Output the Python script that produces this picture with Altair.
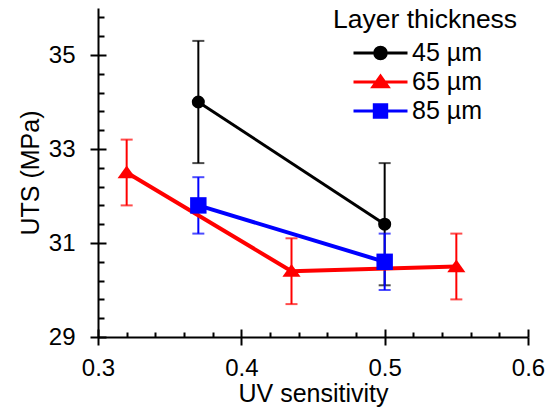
import altair as alt
import pandas as pd

# ---- data ----
groups = ["45 µm", "65 µm", "85 µm"]
colors = ["#000000", "#ff0000", "#0000ff"]

grp = ["45 µm", "45 µm", "65 µm", "65 µm", "65 µm", "85 µm", "85 µm"]
uv = [0.37, 0.50, 0.32, 0.435, 0.55, 0.37, 0.50]
uts = [34.0, 31.4, 32.5, 30.4, 30.5, 31.8, 30.6]
err = [1.3, 1.3, 0.7, 0.7, 0.7, 0.6, 0.6]

x_major = [0.3, 0.4, 0.5, 0.6]
x_ticks = [0.3, 0.32, 0.34, 0.36, 0.38, 0.4, 0.42, 0.44, 0.46, 0.48,
           0.5, 0.52, 0.54, 0.56, 0.58, 0.6]
y_major = [29, 31, 33, 35]
y_ticks = [29, 29.4, 29.8, 30.2, 30.6, 31, 31.4, 31.8, 32.2, 32.6,
           33, 33.4, 33.8, 34.2, 34.6, 35, 35.4, 35.8]

df = pd.DataFrame({"grp": grp, "uv": uv, "uts": uts, "err": err})
df["lo"] = df["uts"] - df["err"]
df["hi"] = df["uts"] + df["err"]

W, H = 430, 329
FONT = "Liberation Sans"

xs = alt.Scale(domain=[0.3, 0.6], nice=False, zero=False)
ys = alt.Scale(domain=[29, 36], nice=False, zero=False)

base = alt.Chart(df)

# main axes (outward major ticks + labels)
axis_layer = base.mark_point(opacity=0).encode(
    x=alt.X("uv:Q", scale=xs, axis=alt.Axis(
        orient="bottom", values=x_major, format=".1f", tickSize=8,
        labelPadding=11, labelFlush=False, title="UV sensitivity",
        titlePadding=1)),
    y=alt.Y("uts:Q", scale=ys, axis=alt.Axis(
        orient="left", values=y_major, format="d", tickSize=8,
        labelPadding=15, labelFlush=False, title="UTS (MPa)",
        titlePadding=5)),
)

# inward ticks (major + minor)
inward_layer = base.mark_point(opacity=0).encode(
    x=alt.X("uv:Q", scale=xs, axis=alt.Axis(
        orient="top", offset=-H, values=x_ticks, labels=False, domain=False,
        title=None,
        tickSize={"condition": {"test": "abs(datum.value*10 - round(datum.value*10)) < 0.001", "value": 8}, "value": 5})),
    y=alt.Y("uts:Q", scale=ys, axis=alt.Axis(
        orient="right", offset=-W, values=y_ticks, labels=False, domain=False,
        title=None,
        tickSize={"condition": {"test": "abs((datum.value-29)/2 - round((datum.value-29)/2)) < 0.001", "value": 8}, "value": 6})),
)

ex = alt.X("uv:Q", scale=xs, axis=None)
ey = alt.Y("uts:Q", scale=ys, axis=None)
ylo = alt.Y("lo:Q", scale=ys, axis=None)
yhi = alt.Y("hi:Q", scale=ys, axis=None)

line_w = [3, 4, 4]
plot_shapes = ["circle", "M0,-0.78L1,0.62L-1,0.62Z", "square"]
plot_sizes = [170, 330, 270]

errs, lines, points = [], [], []
for g, c, w, s, z in zip(groups, colors, line_w, plot_shapes, plot_sizes):
    sub = base.transform_filter(alt.datum.grp == g)
    errs.append(sub.mark_rule(strokeWidth=2, color=c).encode(x=ex, y=ylo, y2="hi:Q"))
    errs.append(sub.mark_tick(orient="horizontal", size=12, thickness=2, color=c).encode(x=ex, y=ylo))
    errs.append(sub.mark_tick(orient="horizontal", size=12, thickness=2, color=c).encode(x=ex, y=yhi))
    lines.append(sub.mark_line(color=c, strokeWidth=w).encode(x=ex, y=ey, order="uv:Q"))
    points.append(sub.mark_point(filled=True, opacity=1, color=c, shape=s, size=z).encode(x=ex, y=ey))

# legend: line + marker symbols (layer itself is invisible)
legend_paths = [
    "M-2.7,0H2.7M0.58,0A0.58,0.58,0,1,1,-0.58,0A0.58,0.58,0,1,1,0.58,0Z",
    "M-2.7,0H2.7M0,-0.6L0.75,0.47L-0.75,0.47Z",
    "M-2.7,0H2.7M-0.62,-0.62H0.62V0.62H-0.62Z",
]
leg = alt.Legend(
    title="Layer thickness", orient="none", legendX=235, legendY=-1,
    titleFontSize=26.5, titleFontWeight="normal", titleColor="black",
    titleFont=FONT, titlePadding=7, titleLimit=400, labelFontSize=25,
    labelColor="black", labelFont=FONT, labelOffset=19, symbolOffset=35,
    rowPadding=3, symbolSize=400, symbolStrokeWidth=3, symbolOpacity=1,
    padding=0,
)
legend_layer = base.mark_point(
    filled=True, opacity=0, size=400, strokeWidth=3).encode(
    x=ex, y=ey,
    fill=alt.Fill("grp:N", scale=alt.Scale(domain=groups, range=colors), legend=leg),
    stroke=alt.Stroke("grp:N", scale=alt.Scale(domain=groups, range=colors), legend=leg),
    shape=alt.Shape("grp:N", scale=alt.Scale(domain=groups, range=legend_paths), legend=leg),
)

chart = alt.layer(
    axis_layer, inward_layer, *errs, *lines, *points, legend_layer,
).resolve_axis(x="independent", y="independent").properties(
    width=W, height=H,
    autosize=alt.AutoSizeParams(type="none"),
    padding={"left": 90, "top": 0, "right": 17, "bottom": 70},
).configure(font=FONT).configure_view(stroke=None).configure_axis(
    grid=False, domainColor="black", domainWidth=2, tickColor="black",
    tickWidth=2, labelColor="black", labelFont=FONT, labelFontSize=24,
    titleFont=FONT, titleFontSize=25, titleFontWeight="normal",
    titleColor="black",
)

chart.save("out.html", embed_options={"renderer": "svg", "actions": False})
